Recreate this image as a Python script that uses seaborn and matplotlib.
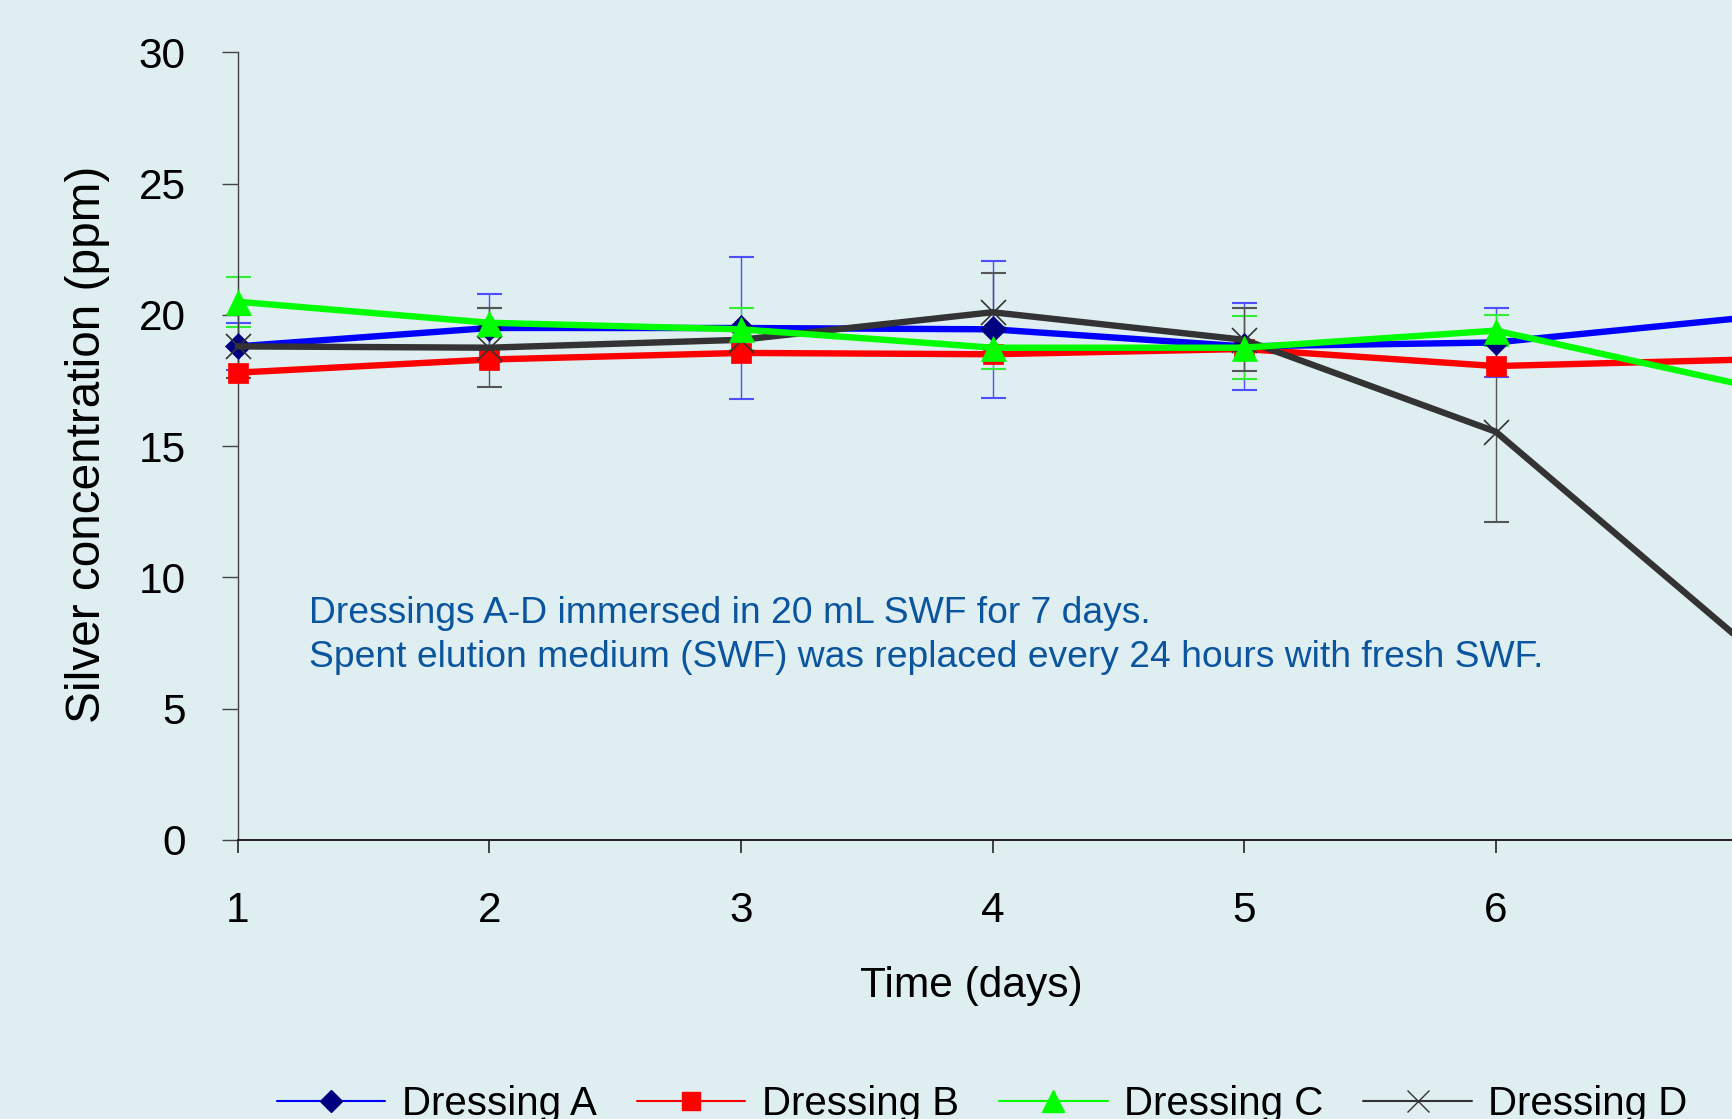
import matplotlib
matplotlib.use("Agg")
import matplotlib.pyplot as plt
from matplotlib.lines import Line2D
import seaborn as sns
import pandas as pd

bg = '#DEEEF1'
sns.set_style("white", {"axes.facecolor": bg, "figure.facecolor": bg})
plt.rcParams['font.family'] = ['Liberation Sans', 'DejaVu Sans']
plt.rcParams['text.color'] = 'black'
plt.rcParams['axes.labelcolor'] = 'black'
plt.rcParams['xtick.labelcolor'] = 'black'
plt.rcParams['ytick.labelcolor'] = 'black'

days = [1, 2, 3, 4, 5, 6, 7]
names = ['Dressing A', 'Dressing B', 'Dressing C', 'Dressing D']
conc_a = [18.8, 19.5, 19.5, 19.45, 18.8, 18.95, 19.9]
conc_b = [17.8, 18.3, 18.55, 18.5, 18.7, 18.05, 18.3]
conc_c = [20.5, 19.7, 19.45, 18.75, 18.75, 19.4, 17.3]
conc_d = [18.8, 18.75, 19.05, 20.1, 19.05, 15.55, 7.4]
err_a = [0.9, 1.3, 2.7, 2.6, 1.65, 1.3, 1.0]
err_c = [0.95, 0.55, 0.8, 0.8, 1.2, 0.6, 1.0]
err_d = [1.2, 1.5, 0.5, 1.5, 1.2, 3.45, 2.0]

line_colors = ['#0000FF', '#FF0000', '#00FF00', '#333333']
marker_colors = ['#000080', '#FF0000', '#00FF00', '#333333']
markers = ['D', 's', '^', 'x']
msizes = [13, 14.5, 18, 18]
err_colors = ['#4F4FFF', None, '#33EE33', '#555555']

df = pd.DataFrame({
    'day': days * 4,
    'conc': conc_a + conc_b + conc_c + conc_d,
    'dressing': [n for n in names for _ in days],
})
errs = [err_a, None, err_c, err_d]

fig = plt.figure(figsize=(17.32, 11.19), dpi=100)
ax = fig.add_axes([0.13724, 0.24933, 0.86276, 0.70393])

# error bars first (thin), then thick lines on top
for i, name in enumerate(names):
    if errs[i] is None:
        continue
    sub = df[df['dressing'] == name]
    eb = ax.errorbar(sub['day'], sub['conc'], yerr=errs[i], fmt='none',
                     ecolor=err_colors[i], elinewidth=1, capsize=9, capthick=1.5, zorder=2)
    for art in eb.lines[1]:
        art.set_clip_on(False)
    for art in eb.lines[2]:
        art.set_clip_on(False)

draw_order = [1, 0, 3, 2]
for i in draw_order:
    sub = df[df['dressing'] == names[i]]
    sns.lineplot(data=sub, x='day', y='conc', ax=ax, color=line_colors[i], lw=4.6,
                 marker=markers[i], markersize=msizes[i],
                 markerfacecolor=marker_colors[i], markeredgecolor=marker_colors[i],
                 markeredgewidth=1.2 if markers[i] == 'x' else 0.5,
                 legend=False, clip_on=False, zorder=3 + draw_order.index(i))

ax.set_xlim(1, 6.939)
ax.set_ylim(0, 30)
ax.set_xticks([1, 2, 3, 4, 5, 6])
ax.set_yticks([0, 5, 10, 15, 20, 25, 30])
ax.tick_params(axis='y', length=11.5, width=1, color='#444444', pad=26, labelsize=30.5, direction='out', left=True)
ax.tick_params(axis='x', length=9.4, width=1.3, color='#333333', pad=27, labelsize=30.5, direction='out', bottom=True)
for s in ['top', 'right']:
    ax.spines[s].set_visible(False)
ax.spines['left'].set_color('#444444')
ax.spines['bottom'].set_color('#111111')
ax.spines['left'].set_linewidth(1)
ax.spines['bottom'].set_linewidth(1.3)

ax.set_xlabel('Time (days)', fontsize=30.6)
ax.xaxis.label.set_va('baseline')
ax.xaxis.set_label_coords(0.4907, -0.1989)
ax.set_ylabel('Silver concentration (ppm)', fontsize=34.4)
ax.yaxis.label.set_va('center')
ax.yaxis.set_label_coords(-0.1008, 0.502)

note_color = '#0A559E'
ax.text(0.0475, 0.2759, 'Dressings A-D immersed in 20 mL SWF for 7 days.',
        transform=ax.transAxes, fontsize=26.8, color=note_color, va='baseline', ha='left')
ax.text(0.0475, 0.2190, 'Spent elution medium (SWF) was replaced every 24 hours with fresh SWF.',
        transform=ax.transAxes, fontsize=26.8, color=note_color, va='baseline', ha='left')

handles = [Line2D([], [], color=line_colors[i], lw=1.5, marker=markers[i],
                  markersize=msizes[i] * 0.85, markerfacecolor=marker_colors[i],
                  markeredgecolor=marker_colors[i], markeredgewidth=1)
           for i in range(4)]
fig.legend(handles, names, loc='center', bbox_to_anchor=(0.567, 0.013), ncol=4,
           frameon=False, fontsize=29, handlelength=2.7, handletextpad=0.4,
           columnspacing=1.0)

fig.savefig('out.png', dpi=100, facecolor=bg)
